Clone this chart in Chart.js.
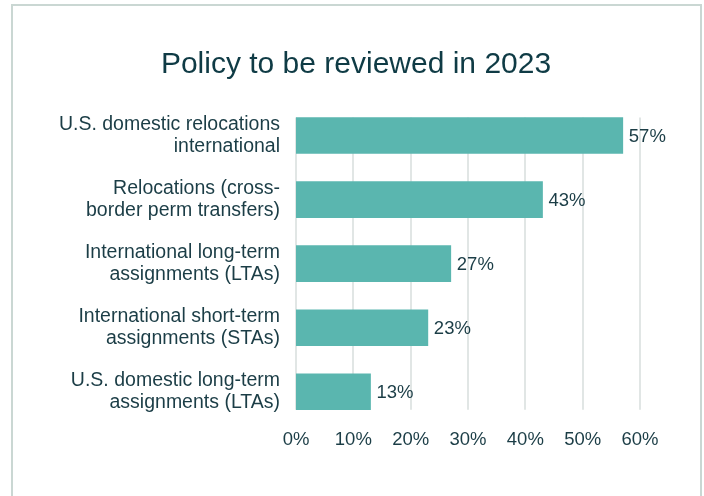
<!DOCTYPE html>
<html>
<head>
<meta charset="utf-8">
<script src="https://cdn.jsdelivr.net/npm/chart.js@4"></script>
<style>
  html, body { margin: 0; padding: 0; background: #fff; }
  #wrap { position: relative; width: 704px; height: 496px; overflow: hidden; }
  #card { position: absolute; left: 11px; top: 4px; right: 2px; bottom: -10px; border: 2px solid #cad7d3; }
  #policyChart { position: absolute; left: 0; top: 0; }
</style>
</head>
<body>
<div id="wrap">
  <div id="card"></div>
  <canvas id="policyChart" width="704" height="496"></canvas>
</div>
<script>
const titulo = "Policy to be reviewed in 2023";
const categorias = [
  ["U.S. domestic relocations", "international"],
  ["Relocations (cross-", "border perm transfers)"],
  ["International long-term", "assignments (LTAs)"],
  ["International short-term", "assignments (STAs)"],
  ["U.S. domestic long-term", "assignments (LTAs)"]
];
const porcentajes = [57, 43, 27, 23, 13];
const ticksX = [0, 10, 20, 30, 40, 50, 60];

const colorTexto = "#1b3d46";
const fuente = "'Liberation Sans', Arial, sans-serif";

// title drawn centred on the card rather than the plot area
const tituloCentrado = {
  id: "tituloCentrado",
  afterDraw(chart) {
    const ctx = chart.ctx;
    ctx.save();
    ctx.font = "30px " + fuente;
    ctx.fillStyle = "#0f3b45";
    ctx.textAlign = "center";
    ctx.textBaseline = "alphabetic";
    ctx.fillText(titulo, 356, 73);
    ctx.restore();
  }
};

// vertical grid lines only between the first and last bar
const gridEntreBarras = {
  id: "gridEntreBarras",
  beforeDatasetsDraw(chart) {
    const barras = chart.getDatasetMeta(0).data;
    const top = barras[0].y - barras[0].height / 2;
    const ultima = barras[barras.length - 1];
    const bottom = ultima.y + ultima.height / 2;
    const ctx = chart.ctx;
    ctx.save();
    ctx.strokeStyle = "#e1e6e5";
    ctx.lineWidth = 2;
    chart.scales.x.ticks.forEach((t) => {
      const x = Math.round(chart.scales.x.getPixelForValue(t.value));
      ctx.beginPath();
      ctx.moveTo(x, top);
      ctx.lineTo(x, bottom);
      ctx.stroke();
    });
    ctx.restore();
  }
};

// value labels at the end of each bar
const etiquetasValor = {
  id: "etiquetasValor",
  afterDatasetsDraw(chart) {
    const ctx = chart.ctx;
    const datos = chart.data.datasets[0].data;
    ctx.save();
    ctx.font = "18.5px " + fuente;
    ctx.fillStyle = colorTexto;
    ctx.textAlign = "left";
    ctx.textBaseline = "middle";
    chart.getDatasetMeta(0).data.forEach((barra, i) => {
      ctx.fillText(datos[i] + "%", barra.x + 6, barra.y + 1);
    });
    ctx.restore();
  }
};

new Chart(document.getElementById("policyChart"), {
  type: "bar",
  data: {
    labels: categorias,
    datasets: [{
      data: porcentajes,
      backgroundColor: "#5ab6af",
      barThickness: 36
    }]
  },
  options: {
    indexAxis: "y",
    responsive: false,
    animation: false,
    layout: { padding: { left: 10, right: 64, top: 103.5, bottom: 40 } },
    plugins: {
      legend: { display: false },
      tooltip: { enabled: false },
      title: { display: false }
    },
    scales: {
      x: {
        min: 0,
        max: 60,
        afterBuildTicks(scale) {
          scale.ticks = ticksX.map(v => ({ value: v }));
        },
        grid: { display: false, drawTicks: false },
        border: { display: false },
        ticks: {
          padding: 5,
          color: colorTexto,
          font: { family: fuente, size: 18.5 },
          callback: (v) => v + "%"
        }
      },
      y: {
        afterFit(scale) { scale.width = 286; },
        grid: { display: false, drawTicks: false },
        border: { display: false },
        ticks: {
          padding: 16,
          color: colorTexto,
          font: { family: fuente, size: 19.5, lineHeight: 1.1 }
        }
      }
    }
  },
  plugins: [gridEntreBarras, etiquetasValor, tituloCentrado]
});
</script>
</body>
</html>
